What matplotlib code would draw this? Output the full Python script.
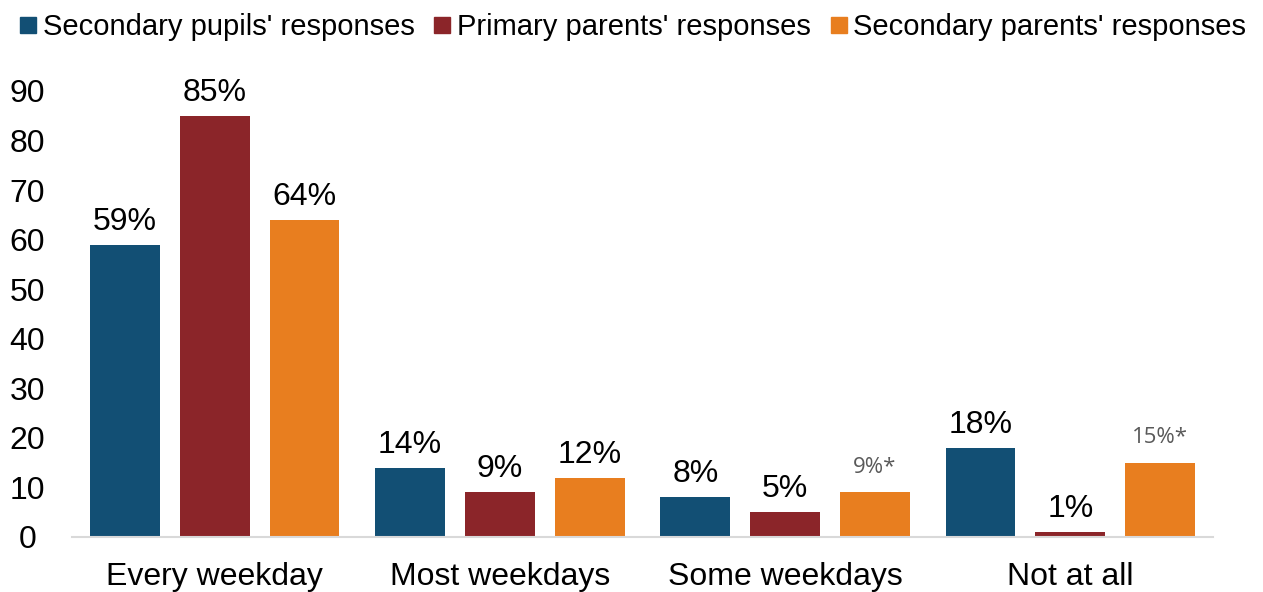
import numpy as np
import matplotlib.pyplot as plt
from matplotlib.lines import Line2D

categories = ["Every weekday", "Most weekdays", "Some weekdays", "Not at all"]
series_names = ["Secondary pupils' responses", "Primary parents' responses",
                "Secondary parents' responses"]
pupils_secondary = [59, 14, 8, 18]
parents_primary = [85, 9, 5, 1]
parents_secondary = [64, 12, 9, 15]
# labels flagged with an asterisk in the source
flagged = {(2, 2), (2, 3)}

colors = ["#124F74", "#8B2529", "#E87E1F"]

plt.rcParams["font.family"] = ["Liberation Sans", "DejaVu Sans"]

fig = plt.figure(figsize=(12.63, 5.92), dpi=100)
ax = fig.add_axes([72 / 1263, 55 / 592, 1141 / 1263, 446 / 592])

x = np.arange(len(categories))
width = 0.245
offset = 0.315
all_series = [pupils_secondary, parents_primary, parents_secondary]

for i, (vals, color) in enumerate(zip(all_series, colors)):
    pos = x + (i - 1) * offset
    ax.bar(pos, vals, width, color=color)
    for j, (p, v) in enumerate(zip(pos, vals)):
        if (i, j) in flagged:
            ax.text(p, v + 3.0, f"{v}%*", ha="center", va="bottom",
                    fontsize=16, color="#595959", family=["Open Sans", "DejaVu Sans"])
        else:
            ax.text(p, v + 1.6, f"{v}%", ha="center", va="bottom",
                    fontsize=23, color="black", clip_on=False)

ax.set_xlim(-0.5, 3.5)
ax.set_ylim(0, 90)
ax.set_yticks(range(0, 91, 10))
ax.set_xticks(x)
ax.set_xticklabels(categories)
ax.tick_params(axis="y", labelsize=23, length=0, pad=32)
ax.tick_params(axis="x", labelsize=23, length=0, pad=18)
for lbl in ax.get_yticklabels():
    lbl.set_horizontalalignment("center")

for s in ["top", "right", "left"]:
    ax.spines[s].set_visible(False)
ax.spines["bottom"].set_color("#D9D9D9")
ax.spines["bottom"].set_linewidth(1.5)

handles = [Line2D([0], [0], marker="s", linestyle="none", markersize=12,
                  markerfacecolor=c, markeredgecolor=c) for c in colors]
fig.legend(handles, series_names, loc="upper left", bbox_to_anchor=(-0.01, 1.022),
           ncol=3, frameon=False, fontsize=21, handletextpad=0.0,
           columnspacing=0.45, handlelength=1.0)

fig.savefig("out.png", dpi=100)
